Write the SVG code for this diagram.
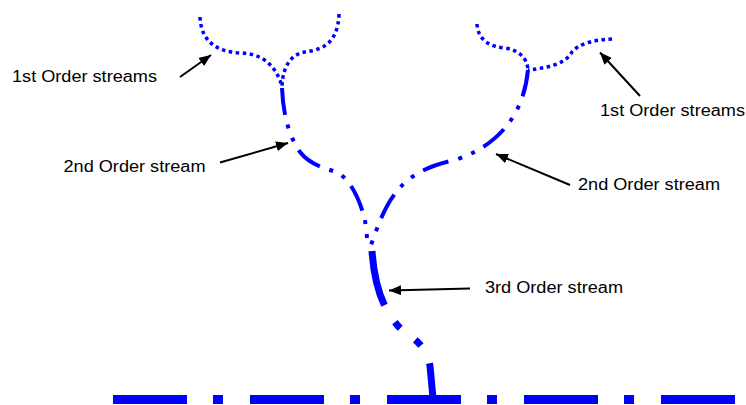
<svg xmlns="http://www.w3.org/2000/svg" width="746" height="405" viewBox="0 0 746 405">
<style>
.o1{fill:none;stroke:#0000ff;stroke-width:3.5;stroke-dasharray:3.5 3.5}
.o2{fill:none;stroke:#0000ff;stroke-width:4;stroke-dasharray:27 10 4 10 4 10}
.o3{fill:none;stroke:#0000ff;stroke-width:7;stroke-dasharray:56 20 8 19 8 20}
.base{fill:none;stroke:#0000ff;stroke-width:9;stroke-dasharray:74 26 10 27}
.arr{fill:none;stroke:#000;stroke-width:2;marker-end:url(#ah)}
text{font-family:"Liberation Sans",Arial,sans-serif;font-size:16px;fill:#000}
</style>
<defs>
<marker id="ah" viewBox="0 0 12 10" refX="12" refY="5" markerWidth="12" markerHeight="10" markerUnits="userSpaceOnUse" orient="auto">
<path d="M0,0 L12,5 L0,10 Z" fill="#000"/>
</marker>
</defs>
<rect width="746" height="405" fill="#fff"/>
<g id="base-stream">
<path class="base" d="M113,399.5 L737,399.5"/>
</g>
<g id="first-order-left">
<path class="o1" d="M200,17 C201,40 215,52 241,53 C262,54 275,64 282,86"/>
<path class="o1" d="M339,14 C338,45 320,50 305,52 C292,54 283,65 282,86"/>
</g>
<g id="first-order-right">
<path class="o1" d="M477,24 C478,40 490,47 505,48 C518,50 527,57 528,70"/>
<path class="o1" d="M612,39 C590,40 578,45 572,52 C566,62 555,67 528,70"/>
</g>
<g id="second-order-left">
<path class="o2" d="M282,88 C283,112 288,135 300,152 C310,165 325,168 336,172 C350,178 360,200 365,220 L368,246"/>
</g>
<g id="second-order-right">
<path class="o2" d="M528,70 C526,90 520,110 505,128 C490,145 475,153 455,160 C430,165 410,175 398,190 C385,205 378,225 370,248"/>
</g>
<g id="third-order">
<path class="o3" d="M372,251 C374,280 380,305 398,326 C410,338 426,342 430,366 L433,398"/>
</g>
<g id="connectors">
<line class="arr" x1="180" y1="77" x2="211" y2="55"/>
<line class="arr" x1="220" y1="162.5" x2="288" y2="143"/>
<line class="arr" x1="470" y1="288.5" x2="389" y2="290.5"/>
<line class="arr" x1="640" y1="96" x2="600" y2="52.5"/>
<line class="arr" x1="570" y1="185" x2="496" y2="154"/>
</g>
<g id="label-1st-left"><text x="12" y="81.5" textLength="145" lengthAdjust="spacingAndGlyphs">1st Order streams</text></g>
<g id="label-2nd-left"><text x="63.5" y="171.5" textLength="142" lengthAdjust="spacingAndGlyphs">2nd Order stream</text></g>
<g id="label-3rd"><text x="485" y="293" textLength="138" lengthAdjust="spacingAndGlyphs">3rd Order stream</text></g>
<g id="label-1st-right"><text x="600" y="116" textLength="145" lengthAdjust="spacingAndGlyphs">1st Order streams</text></g>
<g id="label-2nd-right"><text x="578" y="189.5" textLength="142" lengthAdjust="spacingAndGlyphs">2nd Order stream</text></g>
</svg>
